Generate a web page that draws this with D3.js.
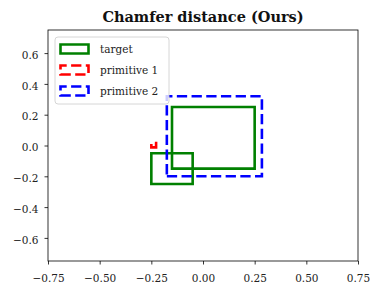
<!DOCTYPE html>
<html>
<head>
<meta charset="utf-8">
<script src="https://cdn.jsdelivr.net/npm/d3@7"></script>
<style>
  body { margin: 0; background: #fff; }
  text { font-family: "DejaVu Serif", serif; }
</style>
</head>
<body>
<div id="chart"></div>
<script>
// rectangles as [x0, x1, y0, y1]
var targetRects = [[-0.15, 0.25, -0.15, 0.25], [-0.25, -0.05, -0.25, -0.05]];
var primitive1 = [[-0.25, -0.227, -0.012, 0.016]];
var primitive2 = [[-0.175, 0.285, -0.20, 0.32]];
var xTicks = [-0.75, -0.5, -0.25, 0, 0.25, 0.5, 0.75];
var yTicks = [-0.6, -0.4, -0.2, 0, 0.2, 0.4, 0.6];
var legendItems = ["target", "primitive 1", "primitive 2"];

var W = 380, H = 295;
var margin = {top: 30, right: 22, bottom: 34, left: 48};
var width = W - margin.left - margin.right,
    height = H - margin.top - margin.bottom;

var svg = d3.select("#chart").append("svg")
    .attr("width", W)
    .attr("height", H);

var g = svg.append("g")
    .attr("transform", "translate(" + margin.left + "," + margin.top + ")");

var x = d3.scaleLinear().domain([-0.75, 0.75]).range([0, width]);
var y = d3.scaleLinear().domain([-0.75, 0.75]).range([height, 0]);

var fmt = function(n) { return d3.format(".2f")(n).replace("-", "\u2212"); };
var fmtY = function(n) { return d3.format(".1f")(n).replace("-", "\u2212"); };

// axes
var xAxis = g.append("g")
    .attr("transform", "translate(0," + height + ")")
    .call(d3.axisBottom(x).tickValues(xTicks).tickFormat(fmt).tickSize(3.5).tickPadding(10));
var yAxis = g.append("g")
    .call(d3.axisLeft(y).tickValues(yTicks).tickFormat(fmtY).tickSize(3.5).tickPadding(6));
[xAxis, yAxis].forEach(function(a) {
    a.select(".domain").remove();
    a.selectAll("line").attr("stroke", "#000").attr("stroke-width", 0.8);
    a.selectAll("text").style("font-size", "10.5px").attr("fill", "#222");
});
yAxis.selectAll("text").attr("dy", "0.5em");

// frame
g.append("rect")
    .attr("width", width).attr("height", height)
    .attr("fill", "none").attr("stroke", "#000").attr("stroke-width", 0.8);

// path starting bottom-left, going right then up (like a matplotlib patch)
function rectPath(x0, x1, y0, y1) {
    return "M" + x0 + "," + y0 + "L" + x1 + "," + y0 + "L" + x1 + "," + y1 +
           "L" + x0 + "," + y1 + "Z";
}

function drawRects(data, color, dashed) {
    g.selectAll(null)
        .data(data)
      .enter().append("path")
        .attr("d", function(d) { return rectPath(x(d[0]), x(d[1]), y(d[2]), y(d[3])); })
        .attr("fill", "none")
        .attr("stroke", color)
        .attr("stroke-width", 2.6)
        .attr("stroke-dasharray", dashed ? "10.3,4.4" : null);
}
drawRects(targetRects, "green", false);
drawRects(primitive1, "red", true);
drawRects(primitive2, "blue", true);

// legend
var legend = g.append("g").attr("transform", "translate(7,7)");
legend.append("rect")
    .attr("width", 114).attr("height", 67).attr("rx", 3)
    .attr("fill", "rgba(255,255,255,0.8)")
    .attr("stroke", "#cccccc").attr("stroke-width", 0.8);
var colors = ["green", "red", "blue"];
legendItems.forEach(function(name, i) {
    var row = legend.append("g").attr("transform", "translate(0," + (12 + i * 21) + ")");
    row.append("path")
        .attr("d", rectPath(5.5, 33.5, 4.5, -4.5))
        .attr("fill", "none").attr("stroke", colors[i]).attr("stroke-width", 2.6)
        .attr("stroke-dasharray", i === 0 ? null : "10.3,4.4");
    row.append("text")
        .attr("x", 45).attr("y", 0).attr("dy", "0.35em")
        .style("font-size", "10.5px")
        .attr("fill", "#222")
        .text(name);
});

// title
svg.append("text")
    .attr("x", margin.left + width / 2)
    .attr("y", 22)
    .attr("text-anchor", "middle")
    .style("font-size", "14.5px")
    .style("font-weight", "bold")
    .attr("fill", "#111")
    .text("Chamfer distance (Ours)");
</script>
</body>
</html>
